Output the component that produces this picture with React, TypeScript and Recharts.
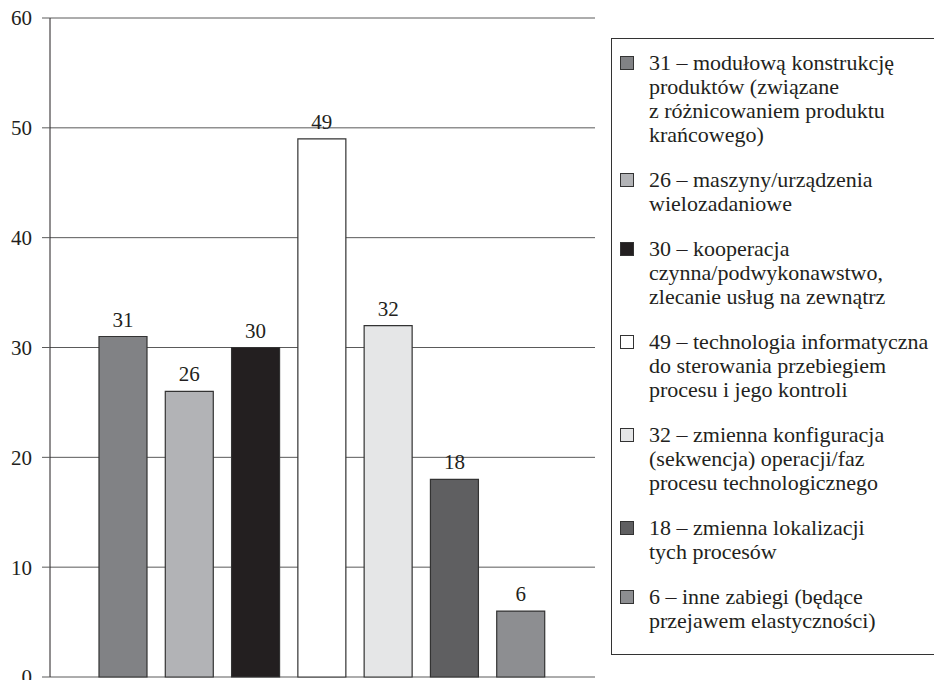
import { BarChart, Bar, XAxis, YAxis, CartesianGrid, Cell, LabelList } from "recharts";

const categories = ["31", "26", "30", "49", "32", "18", "6"];
const values = [31, 26, 30, 49, 32, 18, 6];
const fills = ["#818285", "#b2b3b6", "#231f20", "#ffffff", "#e5e6e7", "#5f5f61", "#8d8e91"];
const yTicks = [0, 10, 20, 30, 40, 50, 60];
const descriptions = [
  ["modułową konstrukcję", "produktów (związane", "z różnicowaniem produktu", "krańcowego)"],
  ["maszyny/urządzenia", "wielozadaniowe"],
  ["kooperacja", "czynna/podwykonawstwo,", "zlecanie usług na zewnątrz"],
  ["technologia informatyczna", "do sterowania przebiegiem", "procesu i jego kontroli"],
  ["zmienna konfiguracja", "(sekwencja) operacji/faz", "procesu technologicznego"],
  ["zmienna lokalizacji", "tych procesów"],
  ["inne zabiegi (będące", "przejawem elastyczności)"],
];

const data = categories.map((c, i) => ({ name: c, value: values[i] }));

const serif = "'Liberation Serif', serif";
const ink = "#231f20";

export default function App() {
  return (
    <div style={{ position: "absolute", left: 0, top: 0, width: 934, height: 680, background: "white", fontFamily: serif, overflow: "hidden" }}>
      <BarChart width={934} height={680} data={data} margin={{ top: 18, right: 339, bottom: 3, left: 0 }}>
        <CartesianGrid vertical={false} stroke="#5a5a5a" />
        <XAxis dataKey="name" hide padding={{ left: 40, right: 41 }} />
        <YAxis domain={[0, 60]} ticks={yTicks} interval={0} width={50} tickSize={8} tickMargin={10}
          axisLine={{ stroke: ink }} tickLine={{ stroke: "#5a5a5a" }}
          tick={{ fill: ink, fontSize: 21, fontFamily: serif }} />
        <Bar dataKey="value" barSize={48} stroke="#333" strokeWidth={1.2} isAnimationActive={false}>
          {values.map((v, i) => <Cell key={i} fill={fills[i]} />)}
          <LabelList dataKey="value" position="top" offset={10} fill={ink} fontSize={21} fontFamily={serif} />
        </Bar>
      </BarChart>

      {/* legend box */}
      <div style={{ position: "absolute", left: 611, top: 38, width: 340, height: 617, boxSizing: "border-box",
        border: "1px solid #333", padding: "12px 0 0 8px", color: ink, fontSize: 22, lineHeight: "24px" }}>
        {descriptions.map((lines, i) => (
          <div key={i} style={{ display: "flex", alignItems: "flex-start", marginBottom: 21 }}>
            <span style={{ width: 14, height: 14, boxSizing: "border-box", border: "1px solid #333", background: fills[i], marginTop: 5, flexShrink: 0 }} />
            <div style={{ marginLeft: 15 }}>
              {lines.map((l, j) => <div key={j}>{j === 0 ? `${values[i]} – ${l}` : l}</div>)}
            </div>
          </div>
        ))}
      </div>
    </div>
  );
}
